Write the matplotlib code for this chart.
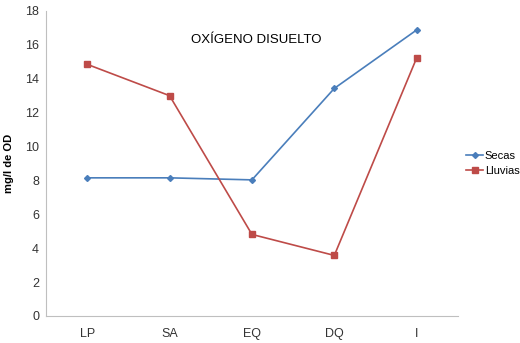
import matplotlib
matplotlib.use("Agg")
import matplotlib.pyplot as plt

plt.rcParams["font.family"] = ["Liberation Sans", "DejaVu Sans"]

sitios = ["LP", "SA", "EQ", "DQ", "I"]
secas = [8.15, 8.15, 8.03, 13.43, 16.88]
lluvias = [14.85, 13.0, 4.81, 3.57, 15.23]

fig = plt.figure(figsize=(5.2, 3.43), dpi=100)
ax = fig.add_axes([0.0885, 0.079, 0.792, 0.889])

x = range(len(sitios))
ax.plot(x, secas, color="#4a7ebb", marker="D", markersize=3, linewidth=1.2, label="Secas")
ax.plot(x, lluvias, color="#be4b48", marker="s", markersize=4.5, linewidth=1.2, label="Lluvias")

ax.set_xlim(-0.5, len(sitios) - 0.5)
ax.set_ylim(0, 18)
ax.set_yticks(range(0, 19, 2))
ax.set_xticks(list(x))
ax.set_xticklabels(sitios)
ax.tick_params(axis="both", length=0, labelsize=9, colors="#333333")
ax.tick_params(axis="y", pad=5)
ax.tick_params(axis="x", pad=9)

for s in ["top", "right"]:
    ax.spines[s].set_visible(False)
for s in ["left", "bottom"]:
    ax.spines[s].set_color("#bfbfbf")

ax.set_ylabel("mg/l de OD", fontsize=8, fontweight="bold")
ax.yaxis.set_label_coords(-0.078, 0.5)
ax.text(0.51, 0.905, "OXÍGENO DISUELTO", transform=ax.transAxes, ha="center", va="center", fontsize=9.5)

ax.legend(loc="center left", bbox_to_anchor=(1.01, 0.5), frameon=False, fontsize=8,
          handlelength=1.5, handletextpad=0.15, borderaxespad=0, labelspacing=0.4)

fig.savefig("out.png", dpi=100)
